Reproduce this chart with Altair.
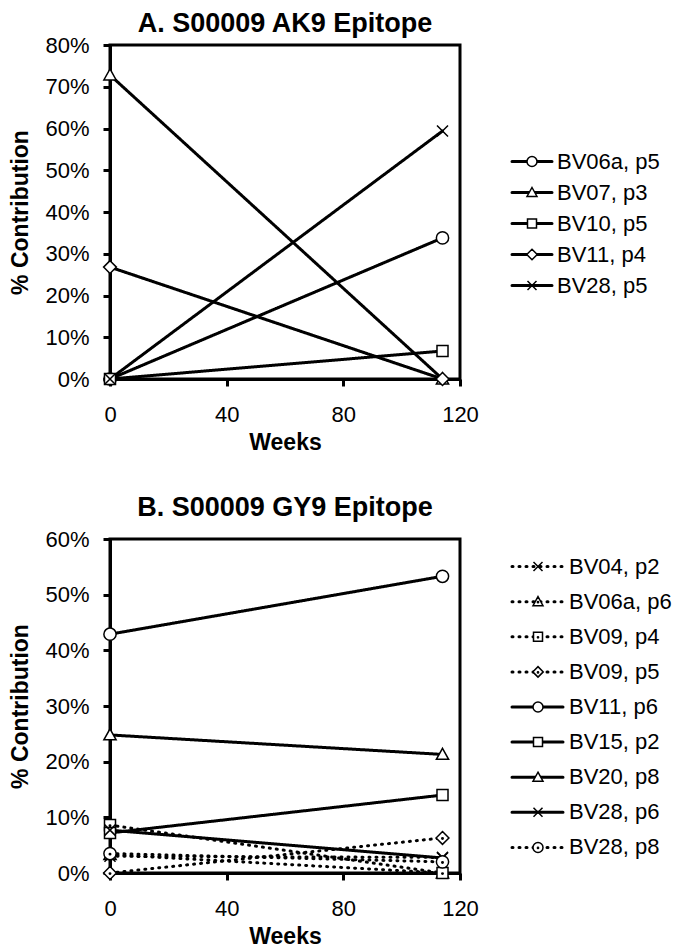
import altair as alt
import pandas as pd

weeks = [0, 114]

a_series = ["BV06a, p5", "BV07, p3", "BV10, p5", "BV11, p4", "BV28, p5"]
a_values = [[0, 33.8], [72.8, 0], [0, 6.7], [26.8, 0], [0, 59.4]]
a_shapes = ["circle", "triangle", "square", "diamond", "x"]
a_dotted = [False, False, False, False, False]

b_series = ["BV04, p2", "BV06a, p6", "BV09, p4", "BV09, p5", "BV11, p6",
            "BV15, p2", "BV20, p8", "BV28, p6", "BV28, p8"]
b_values = [[3.0, 2.8], [3.3, 0], [8.6, 0], [0, 6.3], [42.9, 53.3],
            [7.2, 14.0], [24.8, 21.3], [7.7, 2.7], [3.5, 2.0]]
b_shapes = ["x", "triangle", "square", "diamond", "circle",
            "square", "triangle", "x", "circle"]
b_dotted = [True, True, True, True, False, False, False, False, True]

PATHS = {
    "circle": "M-1,0A1,1 0 1,0 1,0A1,1 0 1,0 -1,0Z",
    "triangle": "M0,-1L1,0.8L-1,0.8Z",
    "square": "M-0.9,-0.9H0.9V0.9H-0.9Z",
    "diamond": "M0,-1.05L1.05,0L0,1.05L-1.05,0Z",
    "x": "M-0.9,-0.9L0.9,0.9M-0.9,0.9L0.9,-0.9",
}
DOT = "M-0.12,0.1A0.12,0.12 0 1,0 0.12,0.1A0.12,0.12 0 1,0 -0.12,0.1Z"

FONT = "Liberation Sans"


def panel(title, series, values, shapes, dotted, ymax, leg_range, leg_x,
          title_offset):
    rows = []
    for s, vals in zip(series, values):
        for w, v in zip(weeks, vals):
            rows.append({"series": s, "week": w, "pct": v})
    df = pd.DataFrame(rows)

    shape_range = []
    for sh, d in zip(shapes, dotted):
        p = PATHS[sh]
        if d and sh != "x":
            p = p + " " + DOT
        shape_range.append(p)
    shape_scale = alt.Scale(domain=series, range=shape_range)
    dash_scale = alt.Scale(domain=series,
                           range=[[1, 6] if d else [1, 0] for d in dotted])

    x = alt.X("week:Q",
              scale=alt.Scale(domain=[0, 120], nice=False),
              axis=alt.Axis(values=[0, 40, 80, 120], title="Weeks",
                            labelFlush=False,
                            labelPadding=18, titlePadding=6))
    y = alt.Y("pct:Q",
              scale=alt.Scale(domain=[0, ymax], nice=False),
              axis=alt.Axis(values=list(range(0, ymax + 1, 10)),
                            labelExpr="datum.value + '%'",
                            title="% Contribution",
                            labelPadding=14, titlePadding=12))

    base = alt.Chart(df)
    lines = base.mark_line(color="black", strokeWidth=3, strokeCap="round",
                           clip=False).encode(
        x=x, y=y,
        strokeDash=alt.StrokeDash("series:N", scale=dash_scale, legend=None),
    )
    points = base.mark_point(filled=True, fill="white", stroke="black",
                             strokeWidth=1.5, size=150, opacity=1,
                             clip=False).encode(
        x=x, y=y,
        shape=alt.Shape("series:N", scale=shape_scale, legend=None),
    )
    plot = alt.layer(lines, points).properties(
        width=350, height=334,
        title=alt.TitleParams(title, fontSize=27, fontWeight="bold",
                              font=FONT, anchor="middle",
                              offset=title_offset),
    )

    ldf = pd.DataFrame({"series": series})
    ly = alt.Y("series:N",
               scale=alt.Scale(domain=series, range=leg_range, padding=0),
               axis=None)
    lbase = alt.Chart(ldf)
    lrule = lbase.mark_rule(color="black", strokeWidth=3,
                            strokeCap="round").encode(
        x=alt.value(0), x2=alt.value(leg_x[1]), y=ly,
        strokeDash=alt.StrokeDash("series:N", scale=dash_scale, legend=None),
    )
    lpoint = lbase.mark_point(filled=True, fill="white", stroke="black",
                              strokeWidth=1.5, size=100, opacity=1).encode(
        x=alt.value(leg_x[0]), y=ly,
        shape=alt.Shape("series:N", scale=shape_scale, legend=None),
    )
    ltext = lbase.mark_text(align="left", baseline="middle", fontSize=22,
                            font=FONT, color="black").encode(
        x=alt.value(leg_x[2]), y=ly, text="series:N",
    )
    legend = alt.layer(lrule, lpoint, ltext).properties(
        width=100, height=334, view=alt.ViewConfig(stroke=None))

    return alt.hconcat(plot, legend, spacing=30).resolve_scale(
        x="independent", y="independent", shape="independent",
        strokeDash="independent")


row_a = panel("A. S00009 AK9 Epitope", a_series, a_values, a_shapes,
              a_dotted, 80, [101, 256], [20, 40, 45], -4)
row_b = panel("B. S00009 GY9 Epitope", b_series, b_values, b_shapes,
              b_dotted, 60, [10, 326], [26, 51, 57], 6)

chart = alt.vconcat(row_a, row_b, spacing=36).resolve_scale(
    x="independent", y="independent", shape="independent",
    strokeDash="independent"
).properties(padding=0).configure(
    font=FONT,
).configure_view(
    stroke="black", strokeWidth=3,
).configure_axis(
    grid=False, domainColor="black", domainWidth=3, tickColor="black",
    tickWidth=3, tickSize=7, labelFontSize=22, labelColor="black",
    labelFont=FONT, titleFont=FONT, titleFontSize=23, titleFontWeight="bold",
    titleColor="black",
)

chart.save("out.html", embed_options={"renderer": "svg", "actions": False})
